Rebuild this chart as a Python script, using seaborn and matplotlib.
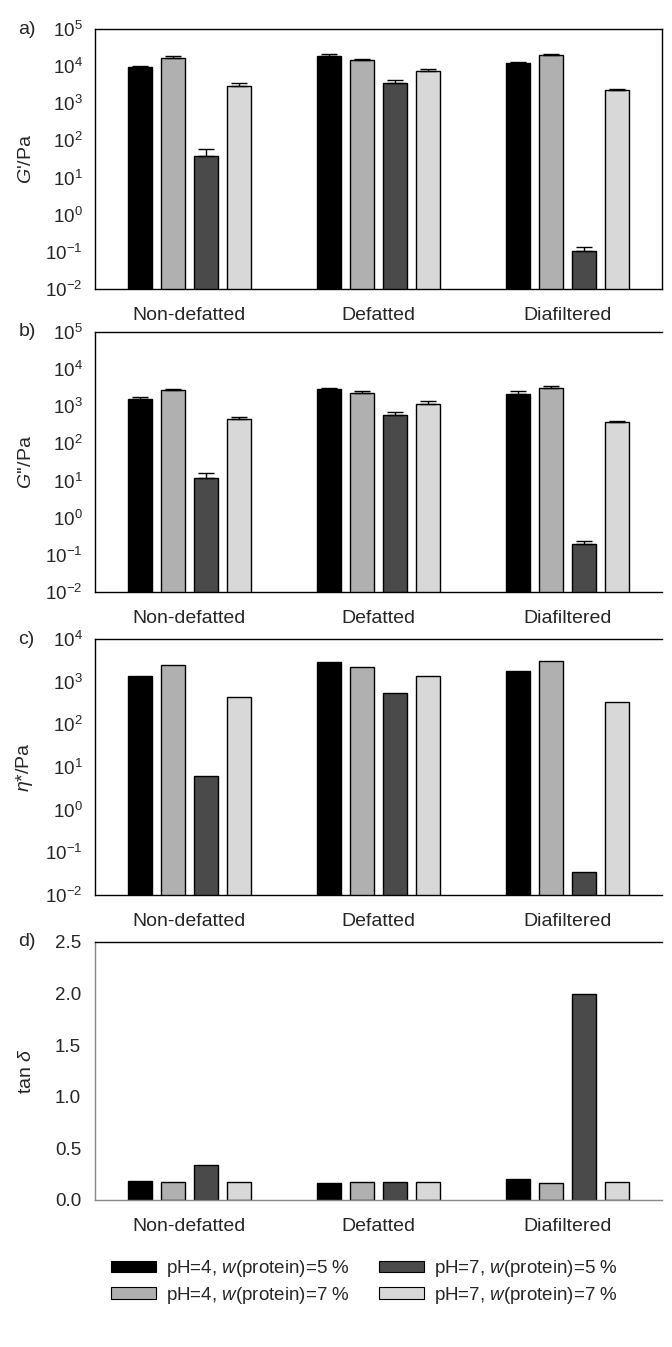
import numpy as np
import pandas as pd
import matplotlib
matplotlib.use("Agg")
import matplotlib.pyplot as plt
from matplotlib.patches import Patch
from matplotlib.ticker import NullLocator, FixedLocator, LogFormatterSciNotation
import seaborn as sns

# Datos
categories = ["Non-defatted", "Defatted", "Diafiltered"]
conditions = ["pH=4, $w$(protein)=5 %", "pH=4, $w$(protein)=7 %",
              "pH=7, $w$(protein)=5 %", "pH=7, $w$(protein)=7 %"]
colors = ["#000000", "#b0b0b0", "#4a4a4a", "#d8d8d8"]

# G'/Pa
g1_ph4_w5 = [9300, 18700, 12100]
g1_ph4_w7 = [16500, 14400, 20300]
g1_ph7_w5 = [39, 3450, 0.104]
g1_ph7_w7 = [2950, 7250, 2290]
g1_err_ph4_w5 = [500, 3100, 500]
g1_err_ph4_w7 = [2500, 1400, 700]
g1_err_ph7_w5 = [20, 700, 0.031]
g1_err_ph7_w7 = [600, 1050, 110]

# G''/Pa
g2_ph4_w5 = [1580, 2950, 2100]
g2_ph4_w7 = [2760, 2340, 3200]
g2_ph7_w5 = [12, 585, 0.20]
g2_ph7_w7 = [465, 1180, 380]
g2_err_ph4_w5 = [210, 250, 450]
g2_err_ph4_w7 = [180, 260, 250]
g2_err_ph7_w5 = [4, 115, 0.04]
g2_err_ph7_w7 = [60, 210, 30]

# eta*/Pa
eta_ph4_w5 = [1370, 2850, 1750]
eta_ph4_w7 = [2470, 2220, 3070]
eta_ph7_w5 = [6.1, 530, 0.034]
eta_ph7_w7 = [430, 1340, 340]

# tan delta
tan_ph4_w5 = [0.18, 0.165, 0.20]
tan_ph4_w7 = [0.175, 0.17, 0.165]
tan_ph7_w5 = [0.34, 0.175, 2.00]
tan_ph7_w7 = [0.175, 0.17, 0.17]

log_ticks_5 = [1e-2, 1e-1, 1e0, 1e1, 1e2, 1e3, 1e4, 1e5]
log_ticks_4 = [1e-2, 1e-1, 1e0, 1e1, 1e2, 1e3, 1e4]
lin_ticks = [0, 0.5, 1.0, 1.5, 2.0, 2.5]
lin_labels = ["0.0", "0.5", "1.0", "1.5", "2.0", "2.5"]


def to_df(series):
    rows = []
    for cond, vals in zip(conditions, series):
        for cat, v in zip(categories, vals):
            rows.append({"sample": cat, "cond": cond, "value": v})
    return pd.DataFrame(rows)


sns.set_style("white")
plt.rcParams["font.family"] = ["Liberation Sans", "DejaVu Sans"]
plt.rcParams["mathtext.fontset"] = "custom"
plt.rcParams["mathtext.rm"] = "Liberation Sans"
plt.rcParams["mathtext.it"] = "Liberation Sans:italic"
plt.rcParams["mathtext.bf"] = "Liberation Sans:bold"

fig = plt.figure(figsize=(6.72, 13.47), dpi=100)
W, H = 672.0, 1347.0
left, right = 95, 662
panels = [(29, 289), (332, 592), (639, 895), (942, 1200)]
axes = []
for top, bot in panels:
    axes.append(fig.add_axes([left / W, 1 - bot / H, (right - left) / W, (bot - top) / H]))

panel_data = [
    ([g1_ph4_w5, g1_ph4_w7, g1_ph7_w5, g1_ph7_w7],
     [g1_err_ph4_w5, g1_err_ph4_w7, g1_err_ph7_w5, g1_err_ph7_w7],
     "$G$'/Pa", "a)", log_ticks_5),
    ([g2_ph4_w5, g2_ph4_w7, g2_ph7_w5, g2_ph7_w7],
     [g2_err_ph4_w5, g2_err_ph4_w7, g2_err_ph7_w5, g2_err_ph7_w7],
     "$G$''/Pa", "b)", log_ticks_5),
    ([eta_ph4_w5, eta_ph4_w7, eta_ph7_w5, eta_ph7_w7], None,
     "$\\eta$*/Pa", "c)", log_ticks_4),
    ([tan_ph4_w5, tan_ph4_w7, tan_ph7_w5, tan_ph7_w7], None,
     "tan $\\delta$", "d)", None),
]

for i, (ax, (series, errs, ylab, tag, yticks)) in enumerate(zip(axes, panel_data)):
    df = to_df(series)
    sns.barplot(data=df, x="sample", y="value", hue="cond", order=categories,
                hue_order=conditions, palette=colors, width=0.70, gap=0.27,
                edgecolor="black", linewidth=1, legend=False, errorbar=None,
                ax=ax, saturation=1)
    ax.set_xlim(-0.5, 2.5)
    if yticks is not None:
        ax.set_yscale("log", nonpositive="clip")
        ax.set_ylim(yticks[0], yticks[-1])
        ax.yaxis.set_major_locator(FixedLocator(yticks))
        ax.yaxis.set_major_formatter(LogFormatterSciNotation())
        ax.yaxis.set_minor_locator(NullLocator())
    else:
        ax.set_ylim(0, 2.5)
        ax.yaxis.set_major_locator(FixedLocator(lin_ticks))
        ax.set_yticklabels(lin_labels)

    # barras de error (sólo hacia arriba)
    if errs is not None:
        bars = ax.patches[:12]
        xs, ys, es = [], [], []
        k = 0
        for h in range(4):
            for c in range(3):
                b = bars[k]
                xs.append(b.get_x() + b.get_width() / 2)
                ys.append(series[h][c])
                es.append(errs[h][c])
                k += 1
        ax.errorbar(xs, ys, yerr=[np.zeros(len(es)), es], fmt="none",
                    ecolor="black", elinewidth=1, capsize=5.5, capthick=1, zorder=3)

    ax.set_xlabel("")
    ax.set_ylabel(ylab, fontsize=14)
    ax.yaxis.set_label_coords(-0.105, 0.5)
    ax.tick_params(axis="x", length=3, width=0.8, color="#888888", pad=10, labelsize=14, direction="out")
    ax.tick_params(axis="y", length=0, pad=9, labelsize=13.5)
    if i == 3:
        ax.tick_params(axis="y", length=4, color="#888888", pad=6, direction="out")
    for s in ["top", "bottom", "left", "right"]:
        ax.spines[s].set_color("black")
        ax.spines[s].set_linewidth(1.0)
    if i > 0:
        ax.spines["right"].set_visible(False)
    if i == 3:
        ax.spines["left"].set_color("#888888")
        ax.spines["bottom"].set_color("#888888")
    ax.text(-0.135, 1.0, tag, transform=ax.transAxes, ha="left", va="center", fontsize=14)

handles = [Patch(facecolor=c, edgecolor="black", linewidth=0.8) for c in colors]
fig.legend(handles, conditions, loc="center", bbox_to_anchor=(364.5 / W, 1 - 1282 / H),
           ncol=2, frameon=False, fontsize=13.5, handlelength=2.4, handleheight=0.53,
           columnspacing=1.55, labelspacing=0.28, handletextpad=0.53)

plt.savefig("out.png", dpi=100)
